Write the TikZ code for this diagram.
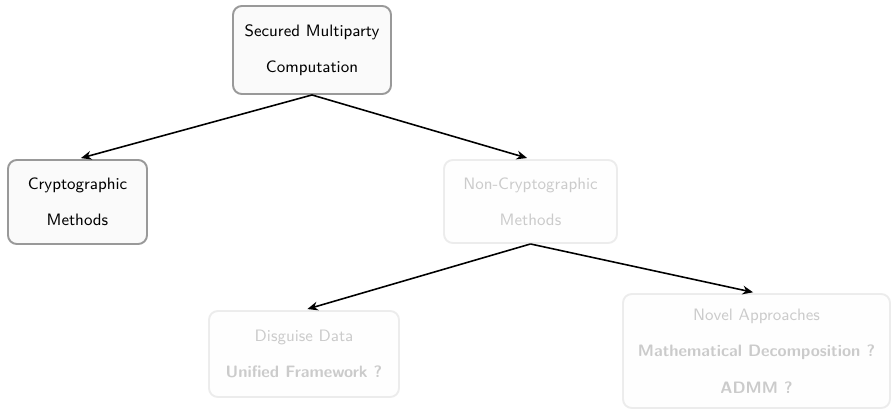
\documentclass[tikz,border=0pt]{standalone}
\usepackage{tikz}
\usetikzlibrary{arrows.meta}

\begin{document}
\begin{tikzpicture}[
    font=\sffamily\fontsize{9.4pt}{11pt}\selectfont,
    box/.style={draw=black!40, fill=black!2, line width=1.1pt, rounded corners=5pt,
      align=center, inner sep=0pt},
    faded/.style={box, opacity=0.18, text opacity=0.2},
    link/.style={-{Stealth[length=6pt, width=5pt]}, line width=0.9pt, shorten >=2pt}
  ]
  \useasboundingbox (0, 0) rectangle (17.82, -8.2);

  % root
  \node [box, minimum width=3.16cm, minimum height=1.76cm] (smc) at (6.24, -1.00)
    {Secured Multiparty\\[0.34cm] Computation};

  % second level
  \node [box, minimum width=2.78cm, minimum height=1.68cm] (crypto) at (1.55, -4.04)
    {Cryptographic\\[0.34cm] Methods};
  \node [faded, minimum width=3.46cm, minimum height=1.66cm] (noncrypto) at (10.61, -4.03)
    {Non-Cryptographic\\[0.34cm] Methods};

  % third level
  \node [faded, minimum width=3.80cm, minimum height=1.72cm] (disguise) at (6.08, -7.08)
    {Disguise Data\\[0.34cm] \textbf{Unified Framework ?}};
  \node [faded, minimum width=5.34cm, minimum height=2.28cm] (novel) at (15.13, -7.02)
    {Novel Approaches\\[0.34cm] \textbf{Mathematical Decomposition ?}\\[0.34cm] \textbf{ADMM ?}};

  % edges
  \draw [link] (smc.south) -- (crypto.north);
  \draw [link] (smc.south) -- (noncrypto.north);
  \draw [link] (noncrypto.south) -- (disguise.north);
  \draw [link] (noncrypto.south) -- (novel.north);
\end{tikzpicture}
\end{document}
